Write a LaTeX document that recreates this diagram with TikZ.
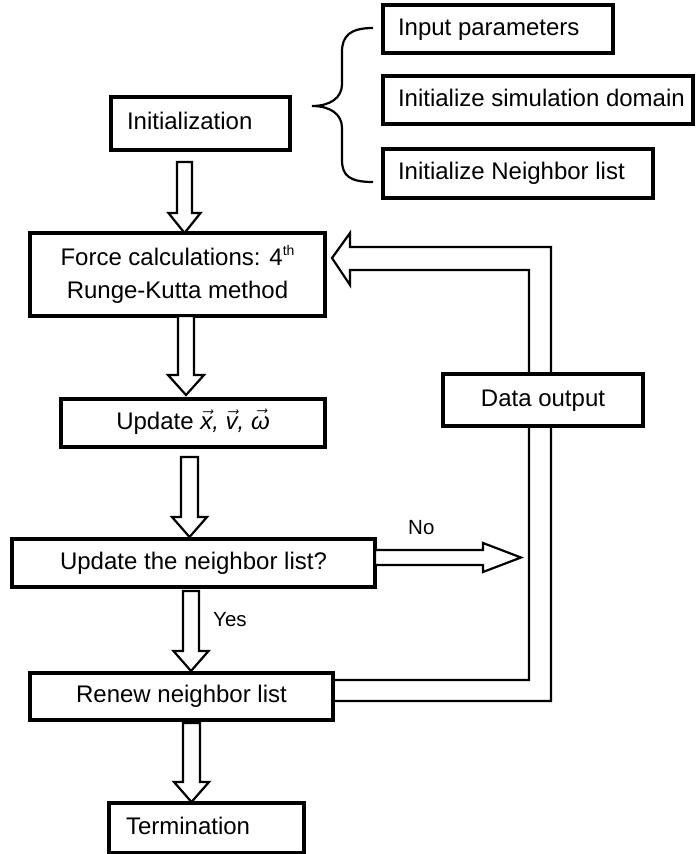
\documentclass[tikz,border=0pt]{standalone}
\usepackage{fontspec}
\setmainfont{Liberation Sans}
\usetikzlibrary{calc}
\newcommand{\blockdown}[4]{%
  \draw[blk] let \p1=(#1), \p2=(#2) in
    (\x1-#3,\y1) -- (\x1-#3,\y2+20pt) -- (\x1-#4,\y2+20pt) -- (\x1,\y2)
    -- (\x1+#4,\y2+20pt) -- (\x1+#3,\y2+20pt) -- (\x1+#3,\y1) -- cycle;}
\begin{document}
\begin{tikzpicture}[x=1pt,y=-1pt,
  box/.style={draw, line width=3.2pt, fill=white, inner sep=0pt, outer sep=0pt,
    font=\fontsize{24}{33}\selectfont},
  one/.style={text height=17pt, text depth=5pt},
  blk/.style={draw, line width=2.2pt, fill=white, line join=miter},
  fb/.style={draw, line width=2.2pt, line join=miter},
  lbl/.style={inner sep=0pt, font=\fontsize{20.5}{24}\selectfont},
  brace/.style={draw, line width=2.2pt}]
\useasboundingbox (0,0) rectangle (697,854);

% boxes
\node[box,one,minimum width=179pt,minimum height=53pt] (init) at (200.5,123.5)
  {\makebox[147pt][l]{Initialization}};
\node[box,one,minimum width=230pt,minimum height=48pt] (inp) at (498,29)
  {\makebox[200pt][l]{Input parameters}};
\node[box,one,minimum width=310pt,minimum height=48pt] (dom) at (538,100)
  {\makebox[280pt][l]{Initialize simulation domain}};
\node[box,one,minimum width=270pt,minimum height=49pt] (nbr) at (518,173.5)
  {\makebox[240pt][l]{Initialize Neighbor list}};
\node[box,align=center,minimum width=295pt,minimum height=83pt] (force) at (177.5,274.5)
  {Force calculations: 4\raisebox{10pt}{\fontsize{14}{14}\selectfont th}\\Runge-Kutta method};
\node[box,one,minimum width=264pt,minimum height=48pt] (upd) at (193,423)
  {Update $\vec{\textit{x}}$\textit{,} $\vec{\textit{v}}$\textit{,} $\vec{\textit{ω}}$};
\node[box,one,minimum width=363pt,minimum height=48pt] (dec) at (193.5,563)
  {Update the neighbor list?};
\node[box,one,minimum width=303pt,minimum height=47pt] (renew) at (181.5,696.5)
  {Renew neighbor list};
\node[box,one,minimum width=195pt,minimum height=50pt] (term) at (206.5,828)
  {\makebox[161pt][l]{Termination}};

% brace
\draw[brace] ($(inp.west)+(-10,-1)$) .. controls (350,28) and (342,36) .. (342,52)
  -- (342,84) .. controls (342,98) and (330,106) .. (312,106)
  .. controls (330,106) and (342,114) .. (342,128) -- (342,160)
  .. controls (342,176) and (350,182) .. ($(nbr.west)+(-10,8.5)$);

% down block arrows
\coordinate (a1s) at (184.5,162);
\coordinate (a1t) at (a1s |- force.north);
\blockdown{a1s}{a1t}{7.5pt}{16pt}
\coordinate (a2s) at (186,0 |- force.south);
\coordinate (a2t) at ($(a2s |- upd.north)+(0,-4)$);
\blockdown{a2s}{a2t}{8pt}{18pt}
\coordinate (a3s) at (189.5,457);
\coordinate (a3t) at ($(a3s |- dec.north)+(0,-2)$);
\blockdown{a3s}{a3t}{8.5pt}{17.5pt}
\coordinate (a4s) at (191,591);
\coordinate (a4t) at ($(a4s |- renew.north)+(0,-2)$);
\blockdown{a4s}{a4t}{8pt}{17.5pt}
\coordinate (a5s) at (191.5,723);
\coordinate (a5t) at ($(a5s |- term.north)+(0,-1)$);
\blockdown{a5s}{a5t}{8.5pt}{17.5pt}

% No arrow
\draw[blk] ($(dec.east)+(0,-13)$) -- (483,550) -- (483,543) -- (521,557.5)
  -- (483,572) -- (483,565) -- ($(dec.east)+(0,2)$) -- cycle;

% feedback loop
\coordinate (fbtip) at ($(force.east)+(7,-16.5)$);
\draw[fb] ($(renew.east)+(0,-16.5)$) -- (529,680) -- (529,270) -- (350,270)
  -- (350,285) -- (fbtip) -- (350,233) -- (350,247) -- (551,247) -- (551,701)
  -- ($(renew.east)+(0,4.5)$);
\node[box,one,minimum width=200pt,minimum height=52pt] (data) at (543,400) {Data output};

% labels
\node[lbl,anchor=base west] (no) at (408,534) {No};
\node[lbl,anchor=base west] (yes) at (213,626) {Yes};
\end{tikzpicture}
\end{document}
